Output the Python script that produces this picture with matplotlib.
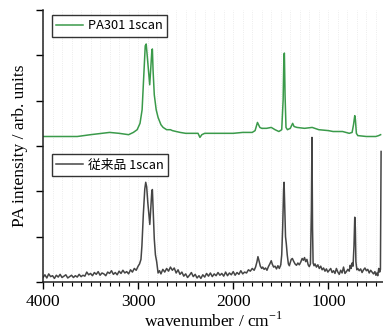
import matplotlib
matplotlib.use("Agg")
import matplotlib.pyplot as plt
from matplotlib.ticker import MultipleLocator, FixedLocator
from matplotlib.lines import Line2D

plt.rcParams['mathtext.fontset'] = 'custom'
plt.rcParams['mathtext.rm'] = 'Liberation Serif'

# PA301 1scan (green, offset)
wn_green = [4000, 3800, 3640, 3500, 3300, 3200, 3100, 3050, 3010, 2980, 2958, 2940, 2925,
            2915, 2905, 2890, 2878, 2868, 2855, 2850, 2843, 2830, 2810, 2790, 2760, 2737,
            2700, 2660, 2640, 2600, 2558, 2500, 2400, 2370, 2350, 2330, 2300, 2200, 2100,
            2000, 1900, 1800, 1770, 1745, 1720, 1700, 1650, 1600, 1560, 1520, 1490, 1475,
            1467, 1462, 1455, 1445, 1430, 1400, 1375, 1360, 1330, 1250, 1170, 1100, 1000,
            950, 850, 780, 750, 735, 722, 715, 705, 690, 600, 500, 470, 450]
val_green = [3.21, 3.21, 3.21, 3.25, 3.30, 3.28, 3.25, 3.30, 3.36, 3.50, 3.80, 4.57, 5.21,
             5.25, 5.01, 4.64, 4.35, 4.68, 5.12, 5.14, 4.68, 4.13, 3.80, 3.63, 3.47, 3.41,
             3.36, 3.36, 3.34, 3.32, 3.30, 3.28, 3.28, 3.28, 3.19, 3.25, 3.28, 3.28, 3.28,
             3.28, 3.30, 3.30, 3.34, 3.52, 3.41, 3.39, 3.39, 3.41, 3.36, 3.32, 3.36, 4.02,
             5.00, 5.05, 4.13, 3.41, 3.36, 3.39, 3.50, 3.43, 3.41, 3.39, 3.41, 3.36, 3.34,
             3.32, 3.32, 3.28, 3.30, 3.47, 3.67, 3.58, 3.28, 3.23, 3.21, 3.21, 3.23, 3.25]

# 従来品 1scan (dark gray)
wn_black = [4000, 3980, 3960, 3940, 3920, 3900, 3880, 3860, 3840, 3820, 3800, 3780, 3760,
            3740, 3720, 3700, 3680, 3660, 3640, 3620, 3600, 3580, 3560, 3540, 3520, 3500,
            3480, 3460, 3440, 3420, 3400, 3380, 3360, 3340, 3320, 3300, 3280, 3260, 3240,
            3220, 3200, 3180, 3160, 3140, 3120, 3100, 3080, 3060, 3040, 3020, 3000, 2985,
            2970, 2960, 2945, 2930, 2920, 2910, 2898, 2885, 2877, 2868, 2856, 2850, 2842,
            2830, 2818, 2805, 2790, 2775, 2760, 2740, 2720, 2700, 2680, 2660, 2640, 2620,
            2600, 2580, 2560, 2540, 2520, 2500, 2480, 2460, 2440, 2420, 2400, 2380, 2360,
            2340, 2320, 2300, 2280, 2260, 2240, 2220, 2200, 2180, 2160, 2140, 2120, 2100,
            2080, 2060, 2040, 2020, 2000, 1980, 1960, 1940, 1920, 1900, 1880, 1860, 1840,
            1820, 1800, 1780, 1765, 1750, 1740, 1730, 1715, 1700, 1690, 1675, 1660, 1645,
            1630, 1615, 1600, 1590, 1575, 1560, 1545, 1530, 1515, 1500, 1490, 1480, 1470,
            1465, 1458, 1450, 1442, 1432, 1420, 1410, 1400, 1390, 1378, 1365, 1350, 1335,
            1320, 1305, 1290, 1275, 1262, 1250, 1238, 1225, 1212, 1200, 1188, 1178, 1172,
            1166, 1160, 1150, 1140, 1125, 1110, 1095, 1080, 1065, 1050, 1035, 1020, 1005,
            990, 975, 960, 945, 930, 915, 900, 885, 870, 855, 840, 825, 810, 795, 780,
            770, 760, 750, 740, 730, 722, 716, 710, 700, 690, 675, 660, 645, 630, 615,
            600, 585, 570, 555, 540, 525, 510, 500, 490, 480, 470, 460, 452, 445]
val_black = [0.10, 0.16, 0.09, 0.18, 0.12, 0.14, 0.08, 0.15, 0.11, 0.17, 0.10, 0.13, 0.16,
             0.09, 0.12, 0.15, 0.10, 0.14, 0.11, 0.17, 0.12, 0.15, 0.13, 0.22, 0.16, 0.19,
             0.14, 0.21, 0.17, 0.23, 0.15, 0.20, 0.18, 0.14, 0.22, 0.19, 0.25, 0.17, 0.21,
             0.16, 0.24, 0.19, 0.26, 0.20, 0.23, 0.18, 0.27, 0.22, 0.30, 0.26, 0.35, 0.40,
             0.50, 0.80, 1.50, 2.05, 2.20, 2.10, 1.75, 1.45, 1.27, 1.60, 2.00, 2.04, 1.60,
             0.95, 0.60, 0.45, 0.20, 0.25, 0.18, 0.28, 0.22, 0.30, 0.24, 0.33, 0.26, 0.31,
             0.20, 0.27, 0.17, 0.22, 0.13, 0.18, 0.10, 0.15, 0.21, 0.12, 0.17, 0.09, 0.14,
             0.08, 0.16, 0.11, 0.19, 0.13, 0.20, 0.12, 0.18, 0.14, 0.21, 0.15, 0.19, 0.13,
             0.22, 0.14, 0.20, 0.16, 0.23, 0.15, 0.21, 0.17, 0.25, 0.18, 0.22, 0.20, 0.27,
             0.24, 0.30, 0.26, 0.33, 0.45, 0.56, 0.48, 0.35, 0.30, 0.33, 0.28, 0.31, 0.26,
             0.34, 0.40, 0.47, 0.40, 0.33, 0.35, 0.29, 0.36, 0.30, 0.38, 0.60, 1.20, 2.05,
             2.20, 1.60, 1.00, 0.85, 0.60, 0.40, 0.36, 0.43, 0.50, 0.52, 0.46, 0.40, 0.37,
             0.42, 0.38, 0.44, 0.52, 0.48, 0.54, 0.45, 0.50, 0.38, 0.34, 0.40, 1.60, 3.19,
             1.20, 0.42, 0.36, 0.40, 0.33, 0.38, 0.30, 0.35, 0.27, 0.31, 0.24, 0.29, 0.22,
             0.26, 0.30, 0.21, 0.25, 0.19, 0.30, 0.22, 0.17, 0.26, 0.20, 0.33, 0.19, 0.23,
             0.28, 0.24, 0.37, 0.30, 0.42, 0.35, 0.80, 1.43, 1.20, 0.45, 0.27, 0.30, 0.25,
             0.29, 0.21, 0.27, 0.31, 0.25, 0.28, 0.20, 0.26, 0.22, 0.18, 0.23, 0.15, 0.20,
             0.14, 0.30, 0.22, 0.28, 2.88]

label_green = "PA301 1scan"
label_black = "従来品 1scan"
x_ticks = [4000, 3000, 2000, 1000]
x_ticklabels = ["4000", "3000", "2000", "1000"]

fig = plt.figure(figsize=(3.83, 3.33), dpi=100)
ax = fig.add_axes([0.1123, 0.153, 0.8877, 0.817])

green = "#3a9a4a"
dark = "#454545"
ax.plot(wn_green, val_green, color=green, lw=1.1)
ax.plot(wn_black, val_black, color=dark, lw=1.1)

ax.set_xlim(4000, 425)
ax.set_ylim(0, 6)

ax.xaxis.set_major_locator(FixedLocator(x_ticks))
ax.set_xticklabels(x_ticklabels, fontfamily="Liberation Serif", fontsize=12.5)
ax.xaxis.set_minor_locator(MultipleLocator(100))
ax.yaxis.set_major_locator(MultipleLocator(1))
ax.set_yticklabels([])
ax.tick_params(axis="x", which="major", direction="out", length=5, width=1, pad=3.5)
ax.tick_params(axis="x", which="minor", direction="out", length=3, width=0.8)
ax.tick_params(axis="y", which="major", direction="out", length=5, width=1, pad=0)
ax.grid(True, axis="x", which="both", color="#e6e6e6", linestyle=":", linewidth=0.6)
ax.set_axisbelow(True)

for s in ["top", "right"]:
    ax.spines[s].set_visible(False)
for s in ["left", "bottom"]:
    ax.spines[s].set_linewidth(1.1)
    ax.spines[s].set_color("#222222")

ax.set_xlabel("wavenumber / cm$^{-1}$", fontfamily="Liberation Serif", fontsize=12.5, labelpad=1)
ax.set_ylabel("PA intensity / arb. units", fontfamily="Liberation Serif", fontsize=12.5, labelpad=6)

fp = {"family": ["Noto Sans CJK JP", "DejaVu Sans"], "size": 9.2}
h1 = Line2D([], [], color=green, lw=1.1)
h2 = Line2D([], [], color=dark, lw=1.1)
leg1 = ax.legend([h1], [label_green], loc="upper left", bbox_to_anchor=(0.026, 0.982),
                 prop=fp, frameon=True, fancybox=False, borderpad=0.35, handlelength=2.1,
                 handletextpad=0.4, borderaxespad=0)
leg1.get_frame().set_edgecolor("black")
leg1.get_frame().set_linewidth(1.0)
ax.add_artist(leg1)
leg2 = ax.legend([h2], [label_black], loc="upper left", bbox_to_anchor=(0.026, 0.469),
                 prop=fp, frameon=True, fancybox=False, borderpad=0.35, handlelength=2.1,
                 handletextpad=0.4, borderaxespad=0)
leg2.get_frame().set_edgecolor("black")
leg2.get_frame().set_linewidth(1.0)

fig.savefig("out.png", dpi=100)
